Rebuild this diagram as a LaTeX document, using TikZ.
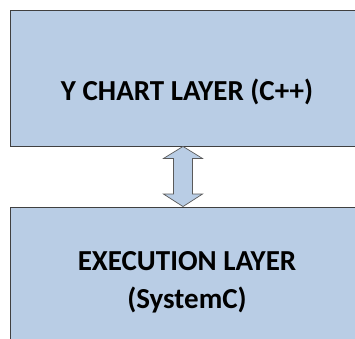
\documentclass[tikz,border=0pt]{standalone}
\usepackage{fontspec}
\setmainfont{Carlito}
\usetikzlibrary{calc}
\definecolor{layerfill}{HTML}{B9CDE5}
\definecolor{layerline}{HTML}{404040}
\definecolor{arrowline}{HTML}{5A5A5A}
\tikzset{
  layer/.style={draw=layerline, line width=0.9pt, fill=layerfill,
    minimum width=352pt, inner sep=0pt},
  layertext/.style={align=center, font=\bfseries\fontsize{29}{38}\selectfont,
    text=black, inner sep=0pt},
  blockarrow/.style={draw=arrowline, line width=0.7pt, fill=layerfill, line join=miter}
}
\begin{document}
\begin{tikzpicture}[x=1pt,y=1pt]
  \useasboundingbox (0,0) rectangle (355,-338);
  \clip (0,0) rectangle (355,-338);
  % the two layers
  \node[layer, minimum height=136pt] (ychart) at (186,-78) {};
  \node[layer, minimum height=148pt] (exec) at (186,-281) {};
  \node[layertext] (ytext) at ($(ychart.center)+(1,-14)$) {Y CHART LAYER (C++)};
  \node[layertext] (etext) at ($(exec.center)+(1,-1)$) {EXECUTION LAYER\\(SystemC)};
  % double-headed block arrow between the layers
  \coordinate (up) at ($(ychart.south)+(-3,0)$);
  \coordinate (dn) at ($(exec.north)+(-3,0)$);
  \draw[blockarrow]
    (up) -- ++(19.5,-12) -- ++(-10,0) -- ($(dn)+(9.5,12.5)$) -- ++(10,0)
    -- (dn) -- ++(-19.5,12.5) -- ++(10,0) -- ($(up)+(-9.5,-12)$) -- ++(-10,0) -- cycle;
\end{tikzpicture}
\end{document}
